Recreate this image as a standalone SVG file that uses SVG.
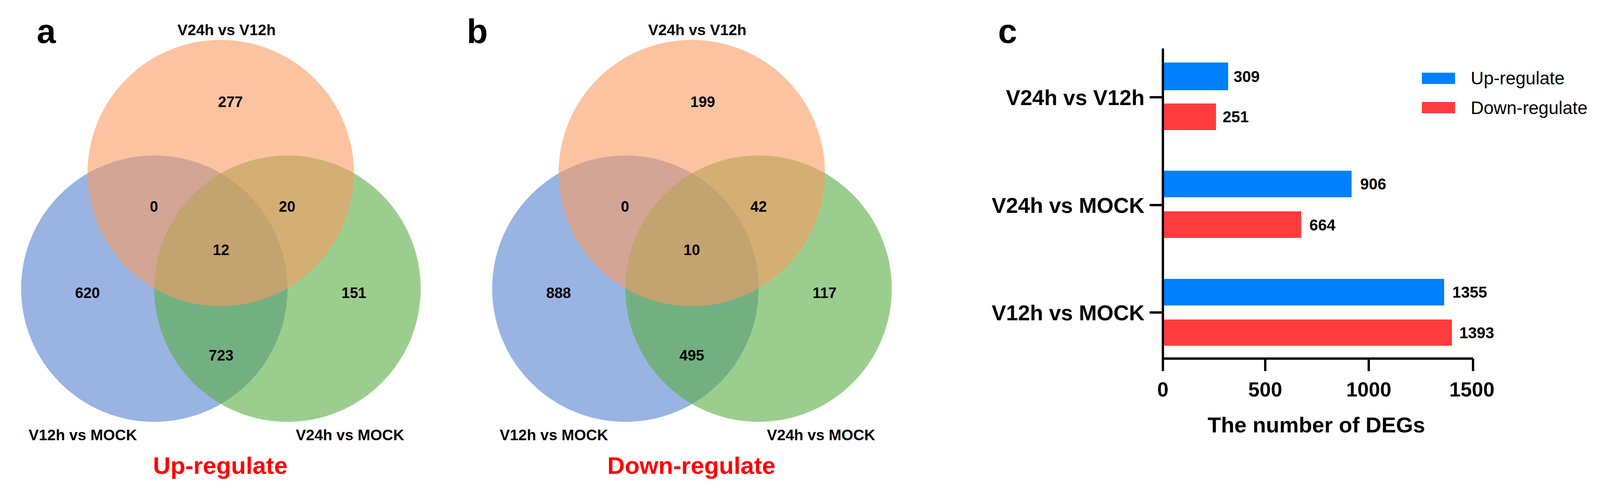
<svg xmlns="http://www.w3.org/2000/svg" width="4233" height="1257" viewBox="0 0 4233 1257">
<style>
text{font-family:"Liberation Sans",Arial,sans-serif;font-weight:bold;fill:#000}
.o{fill:#FA9B62;opacity:.6}.b{fill:#5582CF;opacity:.6}.g{fill:#58AD43;opacity:.6}
.n{font-size:38px;text-anchor:middle}
.l{font-size:39px;text-anchor:middle}
.p{font-size:88px}
.t{font-size:62px;fill:#FF0000;text-anchor:middle}
.cat{font-size:55px;text-anchor:end}
.v{font-size:40px}
.tk{font-size:52px;text-anchor:middle}
.up{fill:#0080FF}.dn{fill:#FF3B3F}
.leg{font-size:46px;font-weight:normal}
.ax{stroke:#000;stroke-width:6;fill:none}
</style>
<g id="panel-a">
<text class="p" x="94" y="110">a</text>
<circle class="b" cx="395" cy="739" r="341"/>
<circle class="g" cx="736" cy="739" r="341"/>
<circle class="o" cx="565" cy="443" r="341"/>
<text class="l" x="580" y="90">V24h vs V12h</text>
<text class="l" x="212" y="1127">V12h vs MOCK</text>
<text class="l" x="896" y="1127">V24h vs MOCK</text>
<text class="n" x="590" y="274">277</text>
<text class="n" x="394" y="542">0</text>
<text class="n" x="735" y="542">20</text>
<text class="n" x="566" y="653">12</text>
<text class="n" x="224" y="763">620</text>
<text class="n" x="906" y="763">151</text>
<text class="n" x="566" y="923">723</text>
<text class="t" x="564" y="1213">Up-regulate</text>
</g>
<g id="panel-b">
<text class="p" x="1195" y="110">b</text>
<circle class="b" cx="1601" cy="739" r="341"/>
<circle class="g" cx="1942" cy="739" r="341"/>
<circle class="o" cx="1771" cy="443" r="341"/>
<text class="l" x="1785" y="90">V24h vs V12h</text>
<text class="l" x="1418" y="1127">V12h vs MOCK</text>
<text class="l" x="2102" y="1127">V24h vs MOCK</text>
<text class="n" x="1799" y="274">199</text>
<text class="n" x="1600" y="542">0</text>
<text class="n" x="1942" y="542">42</text>
<text class="n" x="1771" y="653">10</text>
<text class="n" x="1430" y="763">888</text>
<text class="n" x="2111" y="763">117</text>
<text class="n" x="1771" y="923">495</text>
<text class="t" x="1770" y="1213">Down-regulate</text>
</g>
<g id="panel-c">
<text class="p" x="2555" y="110">c</text>
<rect class="up" x="2980" y="160" width="164" height="71"/>
<rect class="dn" x="2980" y="265" width="133" height="68"/>
<rect class="up" x="2980" y="437" width="480" height="68"/>
<rect class="dn" x="2980" y="541" width="351" height="68"/>
<rect class="up" x="2980" y="714" width="717" height="68"/>
<rect class="dn" x="2980" y="818" width="737" height="67"/>
<text class="v" x="3158" y="210">309</text>
<text class="v" x="3130" y="313">251</text>
<text class="v" x="3482" y="485">906</text>
<text class="v" x="3352" y="590">664</text>
<text class="v" x="3718" y="762">1355</text>
<text class="v" x="3736" y="866">1393</text>
<path class="ax" d="M2977 124V950M2977 918H3771M3239 918V950M3504 918V950M3771 918V950M2943 249H2977M2943 525H2977M2943 800H2977"/>
<text class="cat" x="2930" y="269">V24h vs V12h</text>
<text class="cat" x="2930" y="545">V24h vs MOCK</text>
<text class="cat" x="2930" y="820">V12h vs MOCK</text>
<text class="tk" x="2977" y="1015">0</text>
<text class="tk" x="3239" y="1015">500</text>
<text class="tk" x="3504" y="1015">1000</text>
<text class="tk" x="3768" y="1015">1500</text>
<text x="3370" y="1107" style="font-size:56px;text-anchor:middle">The number of DEGs</text>
<rect class="up" x="3640" y="186" width="85" height="29"/>
<rect class="dn" x="3640" y="261" width="85" height="29"/>
<text class="leg" x="3765" y="216">Up-regulate</text>
<text class="leg" x="3765" y="292">Down-regulate</text>
</g>
</svg>
